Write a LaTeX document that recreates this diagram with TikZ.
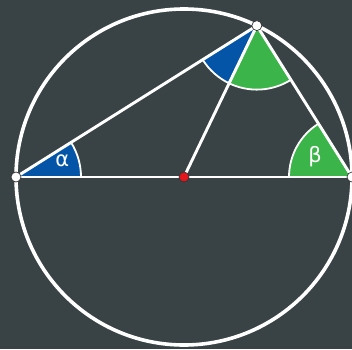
\documentclass[tikz,border=0pt]{standalone}
\usepackage{fontspec}
\setmainfont{DejaVu Sans}
\usetikzlibrary{calc}
\definecolor{bg}{HTML}{394346}
\definecolor{sblue}{HTML}{0455A8}
\definecolor{sgreen}{HTML}{3BB54A}
\definecolor{sred}{HTML}{E3161E}
\begin{document}
\begin{tikzpicture}[x=1pt,y=1pt,
  sector/.style={draw=white,line width=1.8pt},
  chord/.style={draw=white,line width=2.9pt},
  pt/.style={circle,draw=black!80,line width=0.7pt,fill=white,inner sep=0pt,minimum size=10pt},
  lbl/.style={text=white,font=\fontsize{21}{21}\selectfont}]
\fill[bg] (0,0) rectangle (352,349);
\useasboundingbox (0,0) rectangle (352,349);
\coordinate (O) at (184,172);
\coordinate (A) at (16,172);
\coordinate (B) at (352,172);
\coordinate (C) at ($(O)+(64.3:168)$);
% sectors
\filldraw[sector,fill=sblue] (A) -- ++(0:65) arc (0:32.15:65) -- cycle;
\filldraw[sector,fill=sgreen] (B) -- ++(122.15:63) arc (122.15:180:63) -- cycle;
\filldraw[sector,fill=sblue] (C) -- ++(212.15:64) arc (212.15:244.3:64) -- cycle;
\filldraw[sector,fill=sgreen] (C) -- ++(244.3:64) arc (244.3:302.15:64) -- cycle;
% labels
\node[lbl] (la) at ($(A)+(18.8:49)$) {α};
\node[lbl] (lb) at ($(B)+(151.6:42)$) {β};
% lines
\draw[chord] (A) -- (B);
\draw[chord] (A) -- (C);
\draw[chord] (C) -- (B);
\draw[chord] (O) -- (C);
\draw[white,line width=3.6pt] (O) circle (168);
% points
\node[pt] (pa) at (A) {};
\node[pt] (pb) at (B) {};
\node[pt] (pc) at (C) {};
\node[circle,draw=black!80,line width=0.7pt,fill=sred,inner sep=0pt,minimum size=10pt] (po) at (O) {};
\end{tikzpicture}
\end{document}
